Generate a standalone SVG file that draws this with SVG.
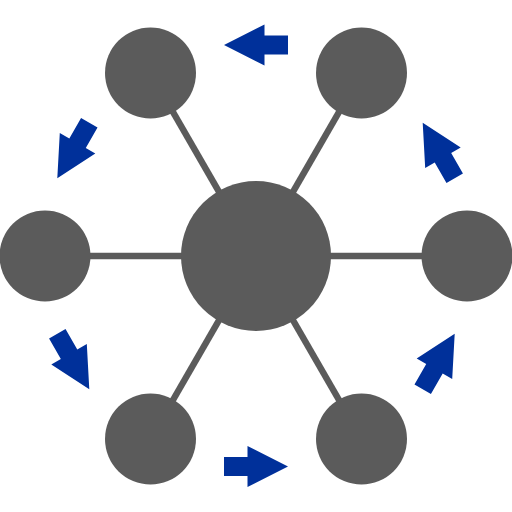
<svg xmlns="http://www.w3.org/2000/svg" width="512" height="512" viewBox="0 0 512 512">
<defs>
<style>
.n{fill:#5b5b5b}
.c{stroke:#5b5b5b;stroke-width:6.5}
.a{fill:#00309a}
</style>
<path id="arr" d="M32,0 L-8.5,-20.5 L-8.5,-9.5 L-32,-9.5 L-32,9.5 L-8.5,9.5 L-8.5,20.5 Z"/>
</defs>
<rect width="512" height="512" fill="#fff"/>
<g id="connectors">
<line class="c" x1="256" y1="256" x2="45" y2="256"/>
<line class="c" x1="256" y1="256" x2="467" y2="256"/>
<line class="c" x1="256" y1="256" x2="150.5" y2="73"/>
<line class="c" x1="256" y1="256" x2="361.5" y2="73"/>
<line class="c" x1="256" y1="256" x2="150.5" y2="439"/>
<line class="c" x1="256" y1="256" x2="361.5" y2="439"/>
</g>
<g id="center"><circle class="n" cx="256" cy="256" r="75"/></g>
<g id="node-tl"><circle class="n" cx="150.5" cy="73" r="45.5"/></g>
<g id="node-tr"><circle class="n" cx="361.5" cy="73" r="45.5"/></g>
<g id="node-l"><circle class="n" cx="45" cy="256" r="45.5"/></g>
<g id="node-r"><circle class="n" cx="467" cy="256" r="45.5"/></g>
<g id="node-bl"><circle class="n" cx="150.5" cy="439" r="45.5"/></g>
<g id="node-br"><circle class="n" cx="361.5" cy="439" r="45.5"/></g>
<g id="arrows" class="a">
<use href="#arr" transform="translate(256,45) rotate(180)"/>
<use href="#arr" transform="translate(73.3,150.5) rotate(120)"/>
<use href="#arr" transform="translate(73.3,361.5) rotate(60)"/>
<use href="#arr" transform="translate(256,466.5)"/>
<use href="#arr" transform="translate(438.7,361.5) rotate(-60)"/>
<use href="#arr" transform="translate(438.7,150.5) rotate(-120)"/>
</g>
</svg>
